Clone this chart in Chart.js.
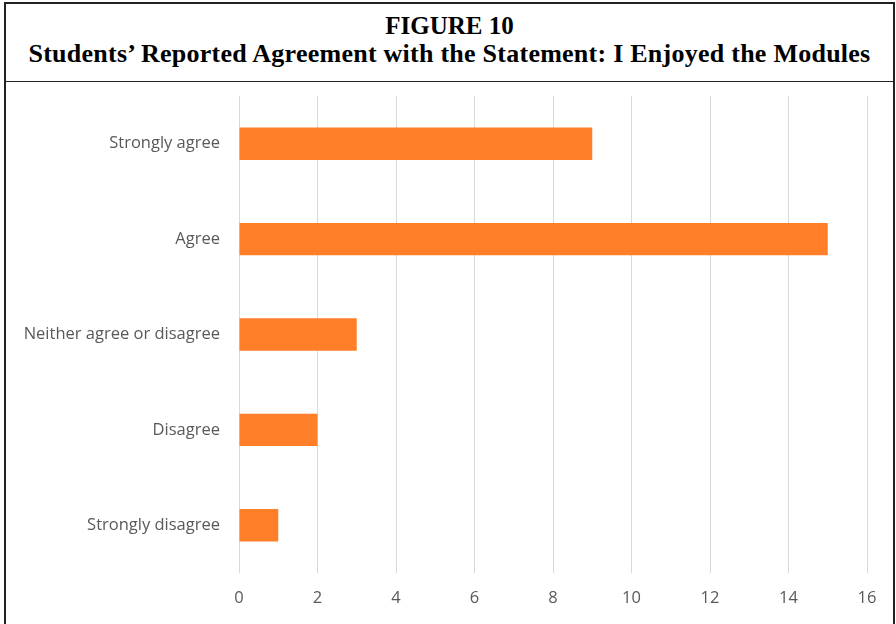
<!DOCTYPE html>
<html>
<head>
<meta charset="utf-8">
<script src="https://cdn.jsdelivr.net/npm/chart.js@4.4.0/dist/chart.umd.min.js"></script>
<style>
    html, body { margin: 0; padding: 0; background: #fff; }
    #page { position: relative; width: 896px; height: 624px; overflow: hidden; }
    #title-box {
        position: absolute; left: 4px; top: 2px; width: 887px; height: 77px;
        border: 2px solid #222; border-bottom: 1px solid #222;
        font-family: "Liberation Serif", "Times New Roman", serif; font-weight: bold;
        color: #000; text-align: center;
    }
    #title-box .l1 { position: absolute; left: 0; right: 0; top: 8px; font-size: 25px; line-height: 28px; }
    #title-box .l2 { position: absolute; left: 0; right: 0; top: 36px; font-size: 26px; line-height: 28px; letter-spacing: 0.25px; }
    #chart-box {
        position: absolute; left: 4px; top: 81px; width: 887px; height: 550px;
        border-left: 2px solid #222; border-right: 2px solid #222;
    }
    #chart-wrap { position: absolute; left: 0; top: 0; width: 887px; height: 543px; }
</style>
</head>
<body>
<div id="page">
    <div id="title-box">
        <div class="l1">FIGURE 10</div>
        <div class="l2">Students’ Reported Agreement with the Statement: I Enjoyed the Modules</div>
    </div>
    <div id="chart-box">
        <div id="chart-wrap"><canvas id="chart"></canvas></div>
    </div>
</div>
<script>
// Chart data
const categories = ['Strongly agree', 'Agree', 'Neither agree or disagree', 'Disagree', 'Strongly disagree'];
const counts = [9, 15, 3, 2, 1];
const xTicks = [0, 2, 4, 6, 8, 10, 12, 14, 16];

const barColor = '#FE7F27';
const labelColor = '#595959';
const labelFont = { family: '"Open Sans", Lato, sans-serif', size: 16.5 };

const canvas = document.getElementById('chart');
new Chart(canvas, {
    type: 'bar',
    data: {
        labels: categories,
        datasets: [{
            data: counts,
            backgroundColor: barColor,
            borderWidth: 0,
            categoryPercentage: 1,
            barPercentage: 0.34
        }]
    },
    options: {
        indexAxis: 'y',
        responsive: true,
        maintainAspectRatio: false,
        animation: false,
        layout: { padding: { top: 15, right: 26, bottom: 0, left: 0 } },
        plugins: {
            legend: { display: false },
            tooltip: { enabled: false }
        },
        scales: {
            x: {
                min: 0,
                max: 16,
                afterBuildTicks: axis => { axis.ticks = xTicks.map(v => ({ value: v })); },
                afterFit: axis => { axis.height = 51; },
                border: { display: false },
                grid: { color: '#d9d9d9', lineWidth: 1, drawTicks: false },
                ticks: { color: labelColor, font: labelFont, padding: 15 }
            },
            y: {
                afterFit: axis => {
                    axis.width = 233;
                    // no extra room above/below for the category labels
                    axis.paddingTop = 0;
                    axis.paddingBottom = 0;
                },
                border: { display: false },
                grid: { display: false, drawTicks: false },
                ticks: { color: labelColor, font: labelFont, padding: 19 }
            }
        }
    }
});
</script>
</body>
</html>
